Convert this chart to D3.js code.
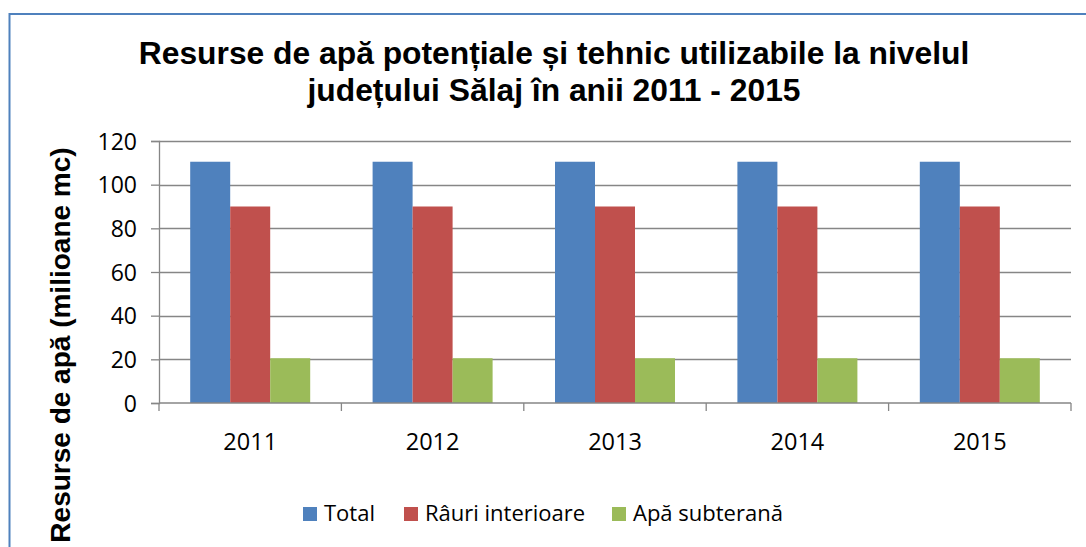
<!DOCTYPE html>
<html><head><meta charset="utf-8">
<script src="https://cdn.jsdelivr.net/npm/d3@7"></script>
<style>body{margin:0;background:#fff}svg{display:block}</style>
</head><body>
<svg id="c" width="1086" height="547"></svg>
<script>
const years = ["2011","2012","2013","2014","2015"];
const seriesNames = ["Total","Râuri interioare","Apă subterană"];
const totalVals = [110.5,110.5,110.5,110.5,110.5];
const rauriVals = [90,90,90,90,90];
const subteranaVals = [20.5,20.5,20.5,20.5,20.5];
const yTicks = [0,20,40,60,80,100,120];
const colors = ["#4f81bd","#c0504d","#9bbb59"];
const titleLines = ["Resurse de apă potențiale și tehnic utilizabile la nivelul","județului Sălaj în anii 2011 - 2015"];
const yTitle = "Resurse de apă (milioane mc)";

const seriesVals = [totalVals, rauriVals, subteranaVals];
const svg = d3.select("#c");
const W=1086,H=547;
svg.append("rect").attr("x",0).attr("y",0).attr("width",W).attr("height",H).attr("fill","#fff");
svg.append("rect").attr("x",9.5).attr("y",14).attr("width",1090).attr("height",560)
  .attr("fill","none").attr("stroke","#4f81bd").attr("stroke-width",2);

const L=159,R=1071,T=141,B=403;
const x0 = d3.scaleBand().domain(years).range([L,R]).paddingInner(62.4/182.4).paddingOuter(31.2/182.4);
const x1 = d3.scaleBand().domain(d3.range(3)).range([0,x0.bandwidth()]);
const y = d3.scaleLinear().domain([0,120]).range([B,T]);

const bodyFont = "'Open Sans', sans-serif";
// gridlines
svg.append("g").selectAll("line").data(yTicks.filter(d=>d>0)).join("line")
  .attr("x1",L).attr("x2",R).attr("y1",d=>Math.round(y(d))+0.5).attr("y2",d=>Math.round(y(d))+0.5)
  .attr("stroke","#868686").attr("stroke-width",1.3);

// bars
const g = svg.append("g");
years.forEach((yr,i)=>{
  seriesVals.forEach((vals,s)=>{
    g.append("rect").attr("x",x0(yr)+x1(s)).attr("width",x1.bandwidth())
      .attr("y",y(vals[i])).attr("height",y(0)-y(vals[i])).attr("fill",colors[s]);
  });
});

// y axis
const yAxis = d3.axisLeft(y).tickValues(yTicks).tickSize(8).tickPadding(14);
const ya = svg.append("g").attr("transform",`translate(${L},0)`).call(yAxis);
ya.select(".domain").attr("stroke","#868686").attr("stroke-width",1.3);
ya.selectAll(".tick line").attr("stroke","#868686").attr("stroke-width",1.3);
ya.selectAll("text").attr("font-family",bodyFont).attr("font-size",23).attr("fill","#000").attr("dy","0.36em");

// x axis
const xAxis = d3.axisBottom(x0).tickSize(0).tickPadding(30);
const xa = svg.append("g").attr("transform",`translate(0,${B})`).call(xAxis);
xa.select(".domain").attr("stroke","#868686").attr("stroke-width",1.3).attr("d",`M${L},0H${R}`);
xa.selectAll("text").attr("font-family",bodyFont).attr("font-size",23.5).attr("fill","#000");
// category boundary ticks
const bounds = years.map(yr=>x0(yr)-x0.step()*x0.paddingOuter()).concat([R]);
xa.selectAll(".bt").data(bounds).join("line").attr("class","bt")
  .attr("x1",d=>d).attr("x2",d=>d).attr("y1",0).attr("y2",8).attr("stroke","#868686").attr("stroke-width",1.3);

// title
const t = svg.append("text").attr("text-anchor","middle").attr("font-family","'Liberation Sans', Arial, sans-serif")
  .attr("font-weight","bold").attr("font-size",31.8).attr("fill","#000");
titleLines.forEach((ln,i)=>t.append("tspan").attr("x",554).attr("y",64+i*37).text(ln));

// y title
svg.append("text").attr("transform","translate(70,345) rotate(-90)").attr("text-anchor","middle")
  .attr("font-family","'Liberation Sans', Arial, sans-serif").attr("font-weight","bold").attr("font-size",28)
  .attr("fill","#000").text(yTitle);

// legend
const legX = [303,404,612];
const lg = svg.append("g");
seriesNames.forEach((n,i)=>{
  lg.append("rect").attr("x",legX[i]).attr("y",507).attr("width",14).attr("height",14).attr("fill",colors[i]);
  lg.append("text").attr("x",legX[i]+21).attr("y",521).attr("font-family",bodyFont).attr("font-size",22).attr("fill","#000").text(n);
});
</script>
</body></html>
